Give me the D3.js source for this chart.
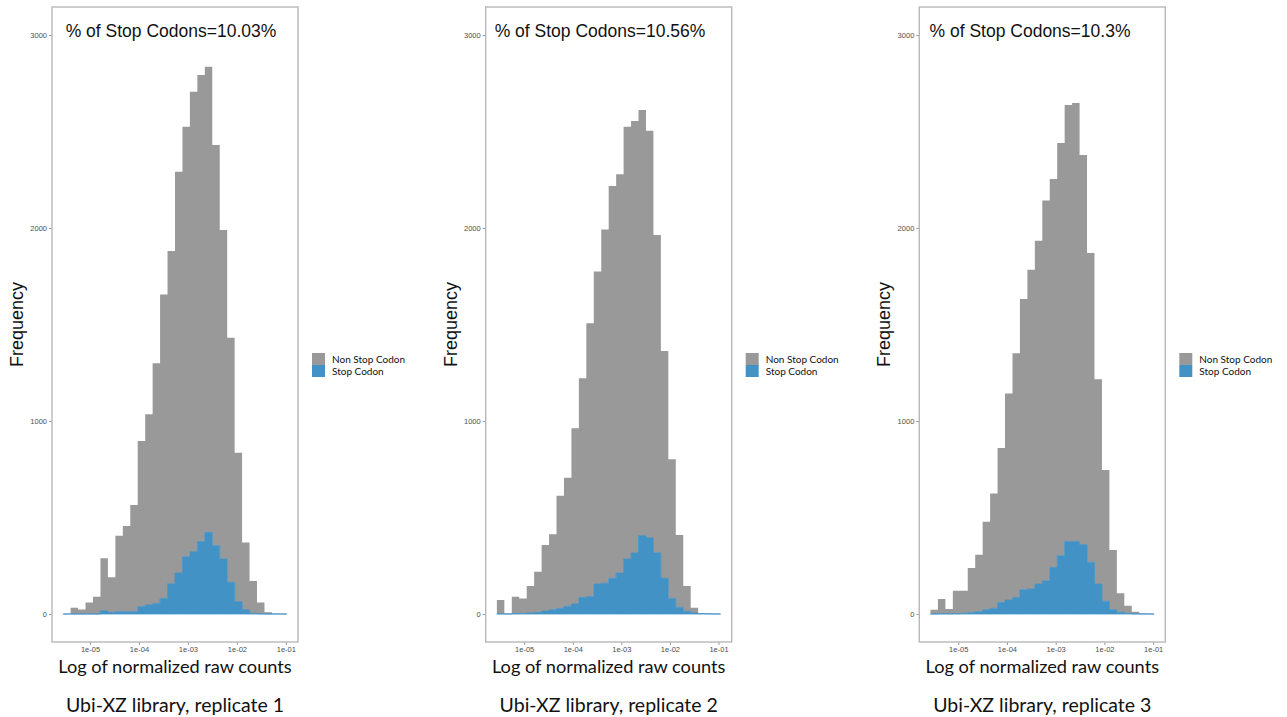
<!DOCTYPE html>
<html>
<head>
<meta charset="utf-8">
<script src="https://cdn.jsdelivr.net/npm/d3@7"></script>
<style>
  body { margin: 0; background: #fff; }
  svg { display: block; }
</style>
</head>
<body>
<svg id="chart"></svg>
<script>
// Three replicate histograms (30 bins each, log10 of normalized raw counts)
const replicates = ['Ubi-XZ library, replicate 1', 'Ubi-XZ library, replicate 2', 'Ubi-XZ library, replicate 3'];
const stopPercents = ['10.03%', '10.56%', '10.3%'];
const seriesNames = ['Non Stop Codon', 'Stop Codon'];

// first and last bin edge, log10 units
const binStarts = [-5.548, -5.562, -5.569];
const binEnds = [-0.980, -0.959, -0.980];

const nonStop1 = [2, 33, 24, 60, 90, 273, 182, 394, 444, 553, 858, 988, 1244, 1575, 1724, 2080, 2228, 2383, 2418, 2413, 2076, 1705, 1268, 772, 349, 167, 59, 9, 2, 1];
const stop1 = [0, 0, 0, 0, 0, 16, 8, 12, 12, 12, 38, 47, 55, 81, 157, 212, 297, 323, 375, 423, 354, 285, 164, 64, 21, 4, 1, 0, 0, 0];

const nonStop2 = [72, 3, 88, 78, 140, 211, 342, 391, 584, 666, 910, 1135, 1416, 1619, 1833, 2032, 2066, 2240, 2238, 2205, 2110, 1648, 1178, 721, 374, 131, 28, 2, 1, 1];
const stop2 = [1, 0, 2, 3, 5, 8, 15, 22, 29, 40, 52, 86, 90, 155, 159, 185, 212, 285, 316, 406, 394, 316, 185, 81, 35, 14, 5, 2, 1, 0];

const nonStop3 = [22, 77, 25, 119, 118, 230, 295, 456, 596, 800, 1071, 1265, 1506, 1654, 1779, 1970, 2013, 2138, 2262, 2272, 2019, 1602, 1061, 680, 310, 98, 40, 11, 3, 1];
const stop3 = [0, 1, 1, 2, 3, 8, 12, 22, 29, 60, 72, 86, 126, 130, 155, 172, 241, 302, 375, 376, 359, 268, 155, 66, 22, 9, 3, 1, 0, 0];

const xTicks = [1e-5, 1e-4, 1e-3, 1e-2, 1e-1];
const yTicks = [0, 1000, 2000, 3000];
const yLimits = [-145, 3145];

const W = 1287, H = 717;
const panel = { top: 7, bottom: 642, width: 246 };
const panelLefts = [52, 485.7, 919.3];
const titleCenters = [171, 600, 1030];
const colors = { nonStop: '#999999', stop: '#4292c6', border: '#b8b8b8', tick: '#4d4d4d' };
const calibri = 'Lato, "Open Sans", sans-serif';
const arial = '"Liberation Sans", Arial, sans-serif';

const svg = d3.select('#chart')
    .attr('width', W)
    .attr('height', H)
    .attr('viewBox', `0 0 ${W} ${H}`);

const yScale = d3.scaleLinear()
    .domain(yLimits)
    .range([panel.bottom, panel.top]);

const fmtExp = d => '1e-' + String(Math.round(-Math.log10(d))).padStart(2, '0');

const makePanel = (i, nonStop, stop) => {
    const left = panelLefts[i];
    const lo = binStarts[i], hi = binEnds[i];
    const bw = (hi - lo) / nonStop.length;
    const pad = (hi - lo) * 0.05;

    // log scale, ggplot style 5% expansion
    const xScale = d3.scaleLog()
        .domain([Math.pow(10, lo - pad), Math.pow(10, hi + pad)])
        .range([left, left + panel.width]);

    // one point per bin left edge, plus the closing right edge
    const steps = nonStop.map((n, k) => ({ x: Math.pow(10, lo + k * bw), stop: stop[k], total: stop[k] + n }));
    steps.push(Object.assign({}, steps[steps.length - 1], { x: Math.pow(10, hi) }));

    const g = svg.append('g');

    // stacked histogram drawn as step areas so bars touch without seams
    const grayArea = d3.area()
        .curve(d3.curveStepAfter)
        .x(d => xScale(d.x))
        .y0(d => yScale(d.stop))
        .y1(d => yScale(d.total));

    const blueArea = d3.area()
        .curve(d3.curveStepAfter)
        .x(d => xScale(d.x))
        .y0(yScale(0))
        .y1(d => yScale(d.stop));

    g.append('path')
        .datum(steps)
        .attr('d', grayArea)
        .style('fill', colors.nonStop);

    g.append('path')
        .datum(steps)
        .attr('d', blueArea)
        .style('fill', colors.stop)
        .style('stroke', colors.stop)
        .style('stroke-width', 0.8);

    // axes
    const yAxis = g.append('g')
        .attr('transform', `translate(${left}, 0)`)
        .call(d3.axisLeft(yScale).tickValues(yTicks).tickFormat(d3.format('d')).tickSize(3).tickPadding(2));
    const xAxis = g.append('g')
        .attr('transform', `translate(0, ${panel.bottom})`)
        .call(d3.axisBottom(xScale).tickValues(xTicks).tickFormat(fmtExp).tickSize(3).tickPadding(2));

    [yAxis, xAxis].forEach(a => {
        a.select('.domain').remove();
        a.selectAll('line').style('stroke', '#555').style('stroke-width', 0.6);
        a.selectAll('text')
            .attr('font-family', arial)
            .attr('font-size', '7.5px')
            .style('fill', colors.tick);
    });

    g.append('rect')
        .attr('x', left)
        .attr('y', panel.top)
        .attr('width', panel.width)
        .attr('height', panel.bottom - panel.top)
        .style('fill', 'none')
        .style('stroke', colors.border)
        .style('stroke-width', 1.4);

    g.append('text')
        .attr('x', titleCenters[i])
        .attr('y', 37)
        .attr('text-anchor', 'middle')
        .attr('font-family', arial)
        .attr('font-size', '17.5px')
        .style('fill', '#111')
        .text(`% of Stop Codons=${stopPercents[i]}`);

    g.append('text')
        .attr('transform', `translate(${left - 29}, ${(panel.top + panel.bottom) / 2}) rotate(-90)`)
        .attr('text-anchor', 'middle')
        .attr('font-family', arial)
        .attr('font-size', '18px')
        .style('fill', '#111')
        .text('Frequency');

    g.append('text')
        .attr('x', left + panel.width / 2)
        .attr('y', 673)
        .attr('text-anchor', 'middle')
        .attr('font-family', calibri)
        .attr('font-size', '18.2px')
        .style('fill', '#111')
        .text('Log of normalized raw counts');

    g.append('text')
        .attr('x', left + panel.width / 2)
        .attr('y', 712)
        .attr('text-anchor', 'middle')
        .attr('font-family', calibri)
        .attr('font-size', '19.5px')
        .style('fill', '#111')
        .text(replicates[i]);

    // legend
    const legend = g.append('g')
        .attr('transform', `translate(${left + panel.width + 14}, 353)`);
    [colors.nonStop, colors.stop].forEach((c, k) => {
        legend.append('rect')
            .attr('x', 0)
            .attr('y', k * 12)
            .attr('width', 13)
            .attr('height', 12)
            .style('fill', c);
        legend.append('text')
            .attr('x', 20)
            .attr('y', k * 12 + 9.5)
            .attr('font-family', calibri)
            .attr('font-size', '10px')
            .style('fill', '#111')
            .text(seriesNames[k]);
    });
};

makePanel(0, nonStop1, stop1);
makePanel(1, nonStop2, stop2);
makePanel(2, nonStop3, stop3);
</script>
</body>
</html>
